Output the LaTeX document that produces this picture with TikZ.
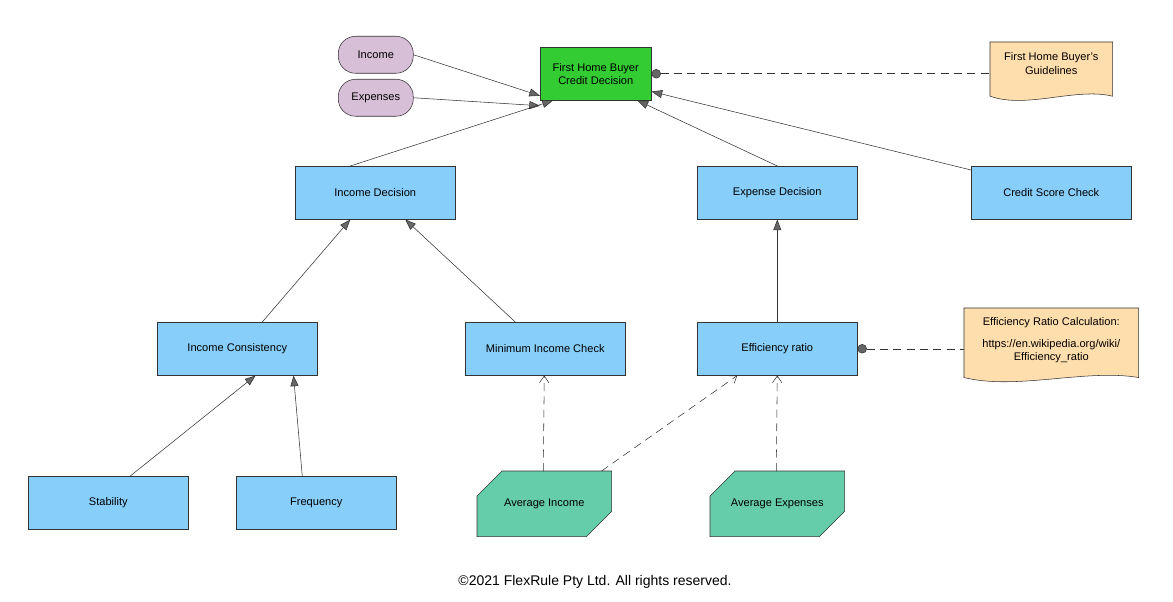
\documentclass[tikz,border=0pt]{standalone}
\usepackage{fontspec}
\setmainfont{Liberation Sans}
\usetikzlibrary{arrows.meta,calc}
\definecolor{dec}{HTML}{87CEFA}
\definecolor{inp}{HTML}{D8BFD8}
\definecolor{green1}{HTML}{33CC33}
\definecolor{ks}{HTML}{FFDEAD}
\definecolor{bkm}{HTML}{66CDAA}
\definecolor{ln}{HTML}{333333}
\begin{document}
\begin{tikzpicture}[x=0.75pt,y=-0.75pt,
  font=\fontsize{8.3}{10}\selectfont,
  box/.style={draw=ln,fill=dec,minimum width=120pt,minimum height=39.75pt,inner sep=0pt,anchor=north west},
  pill/.style={draw=ln,fill=inp,rounded corners=13pt,minimum width=56.25pt,minimum height=27.75pt,inner sep=0pt,anchor=north west},
  doc/.style={minimum width=#1,inner sep=0pt,anchor=north west,align=center},
  bkmn/.style={minimum width=100.5pt,minimum height=48.75pt,inner sep=0pt,anchor=north west},
  info/.style={draw=ln,-{Triangle[length=8pt,width=6pt,fill=gray!80!black]}},
  know/.style={draw=ln,dash pattern=on 6pt off 4pt,-{Straight Barb[length=5pt,width=7pt]}},
  auth/.style={draw=ln,dash pattern=on 6pt off 4pt,{Circle[length=7pt,fill=gray!80!black]}-}]
\useasboundingbox (0,0) rectangle (1173,602);
\fill[white] (0,0) rectangle (1173,602);
% nodes
\node[pill] (inc) at (338,36) {Income};
\node[pill] (exp) at (338,79) {Expenses};
\node[box,fill=green1,minimum width=83.25pt,align=center] (fhb) at (540,47) {First Home Buyer\\Credit Decision};
\node[box] (idec) at (295,166) {Income Decision};
\node[box] (edec) at (697,166) {Expense Decision};
\node[box] (csc) at (971,166) {Credit Score Check};
\node[box] (icon) at (157,322) {Income Consistency};
\node[box] (mic) at (465,322) {Minimum Income Check};
\node[box] (eff) at (697,322) {Efficiency ratio};
\node[box] (stab) at (28,476) {Stability};
\node[box] (freq) at (236,476) {Frequency};
% BKMs
\node[bkmn] (ai) at (477,471) {};
\node[bkmn] (ae) at (710,471) {};
\foreach \n/\t in {ai/Average Income,ae/Average Expenses}{
  \draw[ln,fill=bkm] ($(\n.north west)+(25,0)$) -- (\n.north east) -- ($(\n.south east)+(0,-25)$) -- ($(\n.south east)+(-25,0)$) -- (\n.south west) -- ($(\n.north west)+(0,25)$) -- cycle;
  \node at (\n.center) {\t};
}
% knowledge sources
\node[doc=91.5pt,minimum height=44pt] (gl) at (990,42) {};
\node[doc=130.5pt,minimum height=55.5pt] (erc) at (964,308) {};
\foreach \n in {gl,erc}{
  \draw[ln,fill=ks] (\n.north west) -- (\n.north east) -- ($(\n.south east)+(0,-5)$)
    .. controls ($(\n.south east)!0.3!(\n.south west)+(0,-14)$) and ($(\n.south east)!0.7!(\n.south west)+(0,8)$) .. ($(\n.south west)+(0,-5)$) -- cycle;
}
\node[align=center] at ($(gl.center)+(0,-8)$) {First Home Buyer's\\Guidelines};
\node[align=center] at ($(erc.center)+(0,-5)$) {Efficiency Ratio Calculation:\\[6pt]https://en.wikipedia.org/wiki/\\Efficiency\_ratio};
% information requirements
\draw[info] (inc.east) -- ([yshift=-0.75*22]fhb.west);
\draw[info] (exp.east) -- ([yshift=-0.75*32]fhb.west);
\draw[info] ([xshift=0.75*(-25)]idec.north) -- ([xshift=0.75*13]fhb.south west);
\draw[info] (edec.north) -- ([xshift=-0.75*14]fhb.south east);
\draw[info] ([yshift=-0.75*4]csc.north west) -- ([yshift=0.75*9]fhb.south east);
\draw[info] ([xshift=0.75*25]icon.north) -- ([xshift=0.75*(-25)]idec.south);
\draw[info] ([xshift=0.75*(-30)]mic.north) -- ([xshift=0.75*30]idec.south);
\draw[info] (eff.north) -- (edec.south);
\draw[info] ([xshift=0.75*22]stab.north) -- ([xshift=0.75*(-62)]icon.south east);
\draw[info] ([xshift=0.75*(-14)]freq.north) -- ([xshift=0.75*(-24)]icon.south east);
% knowledge requirements
\draw[know] ([xshift=0.75*(-1)]ai.north) -- (ai.north |- mic.south);
\draw[know] ([xshift=0.75*(-10)]ai.north east) -- ([xshift=0.75*(-40)]eff.south);
\draw[know] ([xshift=0.75*(-1)]ae.north) -- ([xshift=0.75*(0)]eff.south);
% authority requirements
\draw[auth] (fhb.east) -- (fhb.east -| gl.west);
\draw[auth] (eff.east) -- (eff.east -| erc.west);
\node[font=\fontsize{10.5}{12}\selectfont] (copy) at (595,582) {©2021 FlexRule Pty Ltd. All rights reserved.};
\end{tikzpicture}
\end{document}
